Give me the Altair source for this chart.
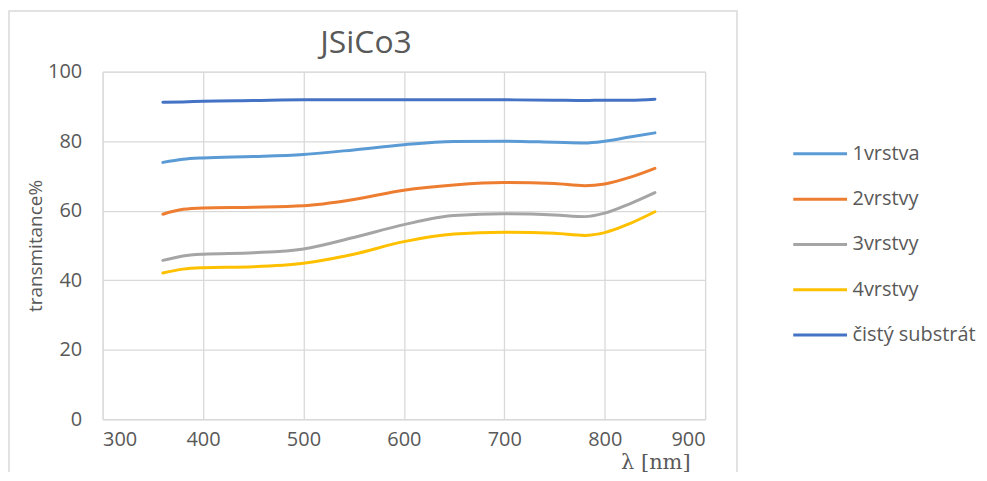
import altair as alt
import pandas as pd

wavelength = [360, 380, 400, 450, 500, 550, 600, 650, 700, 750, 780, 800, 825, 850]
vrstva1 = [73.9, 74.8, 75.2, 75.6, 76.2, 77.5, 79.0, 79.9, 80.0, 79.7, 79.5, 80.0, 81.2, 82.4]
vrstvy2 = [59.0, 60.4, 60.8, 61.0, 61.4, 63.2, 65.9, 67.4, 68.1, 67.8, 67.2, 67.7, 69.6, 72.2]
vrstvy3 = [45.7, 47.0, 47.5, 47.9, 49.0, 52.3, 56.0, 58.6, 59.1, 58.8, 58.3, 59.3, 62.0, 65.2]
vrstvy4 = [42.1, 43.2, 43.6, 43.9, 44.9, 47.5, 51.1, 53.3, 53.8, 53.5, 52.9, 53.7, 56.3, 59.7]
substrat = [91.2, 91.3, 91.5, 91.7, 91.9, 91.9, 91.9, 91.9, 91.9, 91.8, 91.7, 91.8, 91.8, 92.1]

series_names = ["1vrstva", "2vrstvy", "3vrstvy", "4vrstvy", "čistý substrát"]
series_values = [vrstva1, vrstvy2, vrstvy3, vrstvy4, substrat]
colors = ["#5B9BD5", "#ED7D31", "#A5A5A5", "#FFC000", "#4472C4"]

x_ticks = [300, 400, 500, 600, 700, 800, 900]
y_ticks = [0, 20, 40, 60, 80, 100]

rows = []
for name, vals in zip(series_names, series_values):
    for lam, v in zip(wavelength, vals):
        rows.append({"lambda": lam, "T": v, "series": name})
df = pd.DataFrame(rows)

TXT = "#595959"
FONT = "Open Sans"

frame = alt.Chart(pd.DataFrame({"a": [0]})).mark_rect(
    fillOpacity=0, stroke="#d9d9d9", strokeWidth=1.5
).encode(
    x=alt.value(-94), x2=alt.value(637), y=alt.value(-61), y2=alt.value(420)
)

lines = alt.Chart(df).mark_line(interpolate="monotone", strokeWidth=3, strokeCap="round").encode(
    x=alt.X("lambda:Q",
            scale=alt.Scale(domain=[300, 900], nice=False, zero=False),
            axis=alt.Axis(values=x_ticks, title="λ [nm]", grid=True, gridColor="#d9d9d9",
                          gridWidth=1.3, domain=False, ticks=False, labelFontSize=20,
                          labelFont=FONT, labelColor=TXT, labelPadding=10,
                          titleFont="DejaVu Serif", titleFontSize=21, titleFontWeight="normal",
                          titleColor=TXT, titleX=555, titleY=49, titleAlign="center",
                          titleBaseline="alphabetic")),
    y=alt.Y("T:Q",
            scale=alt.Scale(domain=[0, 100], nice=False),
            axis=alt.Axis(values=y_ticks, title="transmitance%", grid=True, gridColor="#d9d9d9",
                          gridWidth=1.3, domain=False, ticks=False, labelFontSize=20,
                          labelFont=FONT, labelColor=TXT, labelPadding=21,
                          titleFont=FONT, titleFontSize=19, titleFontWeight="normal",
                          titleColor=TXT, titlePadding=2)),
    color=alt.Color("series:N",
                    scale=alt.Scale(domain=series_names, range=colors),
                    legend=alt.Legend(title=None, orient="none", legendX=692, legendY=54,
                                      symbolType="stroke", symbolSize=2916, symbolStrokeWidth=3,
                                      labelFontSize=20, labelFont=FONT, labelColor=TXT,
                                      labelOffset=4, rowPadding=6.5)),
)

chart = alt.layer(frame, lines).properties(
    width=605,
    height=349,
    title=alt.TitleParams("JSiCo3", fontSize=32, font=FONT, fontWeight="normal", color=TXT,
                          dx=-38, dy=62, offset=12, frame="group", anchor="middle"),
    autosize=alt.AutoSizeParams(type="none"),
    padding={"left": 95, "top": 63, "right": 275, "bottom": 52},
).configure_view(stroke=None).configure(background="white")

chart.save("out.html", embed_options={"renderer": "svg", "actions": False})
